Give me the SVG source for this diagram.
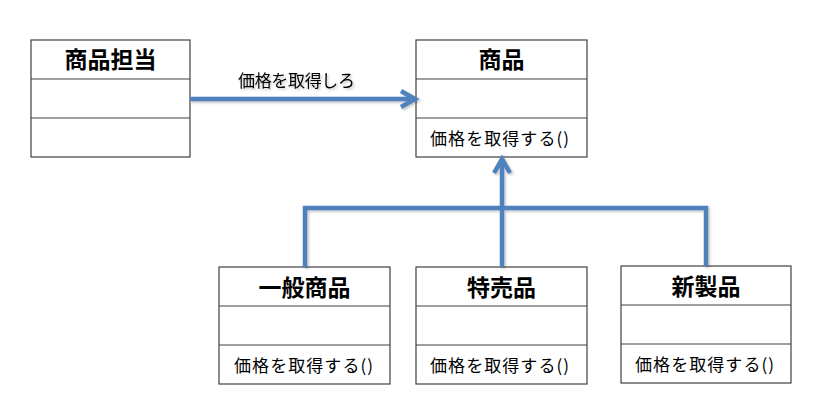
<svg xmlns="http://www.w3.org/2000/svg" width="817" height="413" viewBox="0 0 817 413">
<style>
.box{fill:#fff;stroke:#404040;stroke-width:1.2}
.sep{stroke:#404040;stroke-width:1.2}
.title{font-family:"Noto Sans CJK JP","Noto Sans",sans-serif;font-size:23px;font-weight:bold;fill:#000;text-anchor:middle}
.meth{font-family:"Noto Sans CJK JP","Noto Sans",sans-serif;font-size:17px;fill:#000}
.lbl{font-family:"Noto Sans CJK JP","Noto Sans",sans-serif;font-size:17px;fill:#000}
.conn{fill:none;stroke:#4F81BD;stroke-width:4.5;stroke-linejoin:miter}
</style>
<defs>
<filter id="sh" x="-10%" y="-10%" width="120%" height="120%">
<feDropShadow dx="1.5" dy="1.5" stdDeviation="1" flood-color="#000" flood-opacity="0.25"/>
</filter>
</defs>
<rect width="817" height="413" fill="#fff"/>

<g id="tantou">
<rect class="box" x="31" y="40" width="159" height="117"/>
<line class="sep" x1="31" y1="79" x2="190" y2="79"/>
<line class="sep" x1="31" y1="118" x2="190" y2="118"/>
<text class="title" x="110.5" y="68">商品担当</text>
</g>

<g id="shohin">
<rect class="box" x="416" y="40" width="171" height="117"/>
<line class="sep" x1="416" y1="79" x2="587" y2="79"/>
<line class="sep" x1="416" y1="118" x2="587" y2="118"/>
<text class="title" x="501.5" y="68">商品</text>
<text class="meth" x="430" y="145" textLength="139" lengthAdjust="spacing">価格を取得する()</text>
</g>

<g id="ippan">
<rect class="box" x="219" y="267" width="171" height="117"/>
<line class="sep" x1="219" y1="306" x2="390" y2="306"/>
<line class="sep" x1="219" y1="345" x2="390" y2="345"/>
<text class="title" x="304.5" y="296">一般商品</text>
<text class="meth" x="234" y="372" textLength="139" lengthAdjust="spacing">価格を取得する()</text>
</g>

<g id="tokubai">
<rect class="box" x="416" y="267" width="171" height="117"/>
<line class="sep" x1="416" y1="306" x2="587" y2="306"/>
<line class="sep" x1="416" y1="345" x2="587" y2="345"/>
<text class="title" x="501.5" y="296">特売品</text>
<text class="meth" x="430" y="372" textLength="139" lengthAdjust="spacing">価格を取得する()</text>
</g>

<g id="shinseihin">
<rect class="box" x="621" y="266" width="170" height="117"/>
<line class="sep" x1="621" y1="305" x2="791" y2="305"/>
<line class="sep" x1="621" y1="344" x2="791" y2="344"/>
<text class="title" x="706" y="295">新製品</text>
<text class="meth" x="635" y="371" textLength="139" lengthAdjust="spacing">価格を取得する()</text>
</g>

<g id="connectors" filter="url(#sh)">
<line class="conn" x1="190" y1="99" x2="414" y2="99"/>
<polyline class="conn" points="401,91 415,99 401,107"/>
<text class="lbl" x="238" y="87" textLength="117" lengthAdjust="spacing">価格を取得しろ</text>
<polyline class="conn" points="305,267 305,208 706,208 706,266"/>
<line class="conn" x1="502" y1="267" x2="502" y2="159"/>
<polyline class="conn" points="494,173 502,159 510,173"/>
</g>
</svg>
